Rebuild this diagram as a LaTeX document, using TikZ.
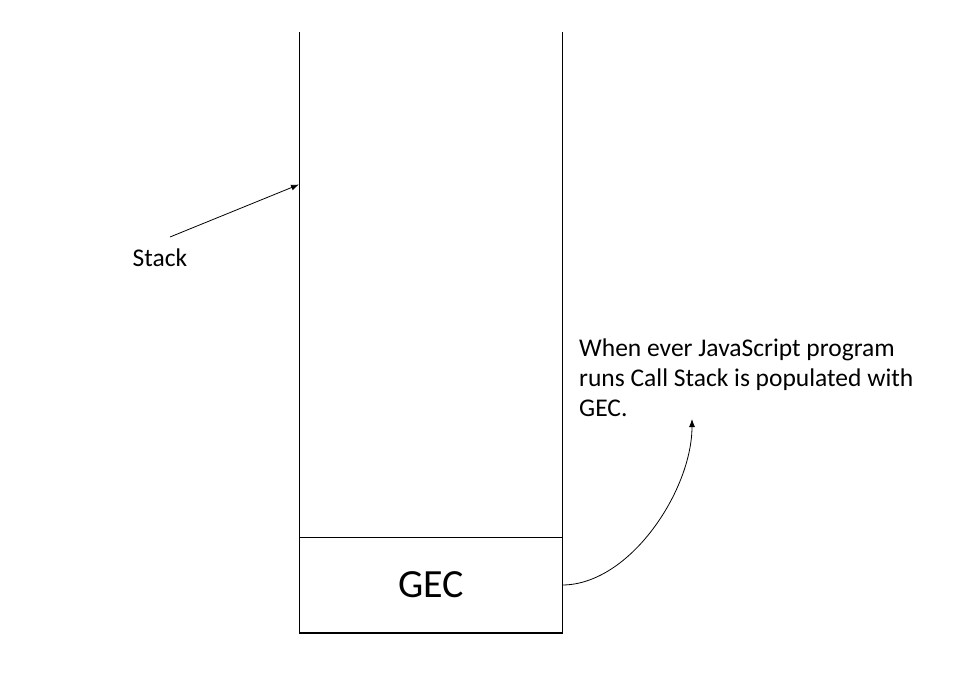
\documentclass[tikz,border=0pt]{standalone}
\usepackage{fontspec}
\setmainfont{Carlito}
\usetikzlibrary{arrows.meta}
\begin{document}
\begin{tikzpicture}[x=1pt,y=-1pt,
  wall/.style={line width=1pt},
  conn/.style={line width=0.8pt,-{Latex[length=8pt,width=6pt]}},
  lbl/.style={font=\fontsize{25.5}{29.6}\selectfont,inner sep=0pt,align=left}]
\useasboundingbox[fill=white] (0,0) rectangle (976,684);
% stack column
\coordinate (tl) at (299,32.5);
\coordinate (tr) at (562,32.5);
\coordinate (bl) at (299,633);
\coordinate (br) at (562,633);
\draw[wall] (tl) -- (bl) -- (br) -- (tr);
\node[draw,line width=1pt,minimum width=263pt,minimum height=95pt,inner sep=0pt,anchor=south west,font=\fontsize{40}{48}\selectfont] (gec) at (bl) {GEC};
% Stack label
\node[lbl,anchor=base west] (stack) at (132.5,266.5) {Stack};
\coordinate (s0) at (170,237);
\coordinate (s1) at (299,184.5);
\draw[conn] (s0) -- (s1);
% note (base anchor = baseline of last line)
\node[lbl,anchor=base west] (note) at (579,416) {When ever JavaScript program\\runs Call Stack is populated with\\GEC.};
\coordinate (c0) at (562,585);
\coordinate (c1) at (692,419);
\draw[conn] (c0) .. controls (630,585) and (692,490) .. (c1);
\end{tikzpicture}
\end{document}
